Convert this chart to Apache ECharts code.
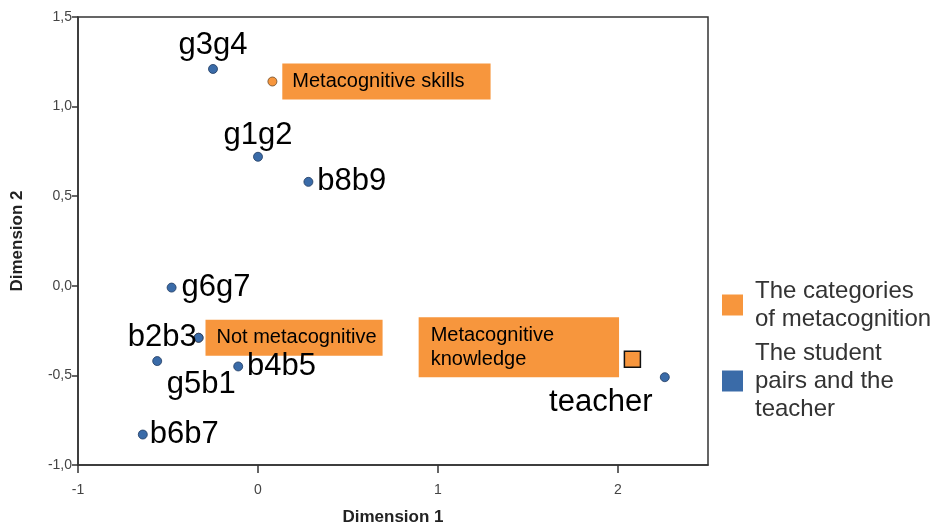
<!DOCTYPE html>
<html>
<head>
<meta charset="utf-8">
<script src="https://cdn.jsdelivr.net/npm/echarts@6/dist/echarts.min.js"></script>
<style>
  html, body { margin: 0; padding: 0; background: #fff; }
  #chart { width: 941px; height: 526px; }
</style>
</head>
<body>
<div id="chart"></div>
<script>
// student pairs and the teacher
const pairNames = ['g3g4', 'g1g2', 'b8b9', 'g6g7', 'b2b3', 'g5b1', 'b4b5', 'b6b7', 'teacher']
const pairDim1 = [-0.25, 0.0, 0.28, -0.48, -0.33, -0.56, -0.11, -0.64, 2.26]
const pairDim2 = [1.21, 0.72, 0.58, -0.01, -0.29, -0.42, -0.45, -0.83, -0.51]

// categories of metacognition
const categoryNames = ['Metacognitive skills', 'Not metacognitive', 'Metacognitive\nknowledge']
const categoryDim1 = [0.08, -0.33, 2.08]
const categoryDim2 = [1.14, -0.29, -0.41]

// axis ticks
const dim1Ticks = [-1, 0, 1, 2]
const dim2Ticks = [-1.0, -0.5, 0.0, 0.5, 1.0, 1.5]

const ORANGE = '#F7963D'
const BLUE = '#3A6BA8'
const FONT = '"Liberation Sans", Arial, sans-serif'

// where each point label goes
const pairLabelPos = {
    g3g4: { position: 'top', distance: 3 },
    g1g2: { position: 'top', distance: 1 },
    b8b9: { position: 'right', distance: 4 },
    g6g7: { position: 'right', distance: 5 },
    b2b3: { position: 'left', distance: 0, offset: [3, 0] },
    g5b1: { position: 'bottom', distance: 3, offset: [44, 0] },
    b4b5: { position: 'right', distance: 4 },
    b6b7: { position: 'right', distance: 2 },
    teacher: { position: 'bottom', distance: 5, offset: [-64, 0] }
}

const categoryLabelPos = [
    { position: 'right', distance: 5, padding: [7, 26, 7, 10] },
    { position: 'right', distance: 2, padding: [7, 6, 7, 11] },
    { position: 'left', distance: 5, align: 'left', offset: [-200, -12], padding: [6, 65, 6, 12], lineHeight: 24 }
]

let pairData = pairNames.map((name, i) => ({
    name: name,
    value: [pairDim1[i], pairDim2[i]],
    label: pairLabelPos[name]
}))

let categoryData = categoryNames.map((name, i) => {
    let item = {
        name: name,
        value: [categoryDim1[i], categoryDim2[i]],
        label: categoryLabelPos[i]
    }
    if (i === 2) {
        item.symbol = 'rect'
        item.symbolSize = 16
        item.itemStyle = { color: ORANGE, borderColor: '#111', borderWidth: 1.5, opacity: 1 }
    }
    return item
})

let chart = echarts.init(document.getElementById('chart'))

let option = {
    animation: false,
    grid: {
        left: 78,
        right: 233,
        top: 17,
        bottom: 61,
        outerBoundsMode: 'none',
        show: true,
        borderColor: '#333',
        borderWidth: 1.5
    },
    legend: {
        orient: 'vertical',
        left: 722,
        top: 277,
        padding: 0,
        itemGap: 6,
        itemWidth: 21,
        itemHeight: 21,
        icon: 'rect',
        itemStyle: { borderWidth: 0, opacity: 1 },
        textStyle: {
            fontFamily: FONT,
            fontSize: 24,
            lineHeight: 28,
            color: '#333',
            padding: [0, 0, 0, 7]
        },
        data: ['The categories\nof metacognition', 'The student\npairs and the\nteacher']
    },
    xAxis: {
        type: 'value',
        min: -1,
        max: 2.5,
        interval: 1,
        name: 'Dimension 1',
        nameLocation: 'middle',
        nameGap: 44,
        nameTextStyle: { fontFamily: FONT, fontSize: 17, fontWeight: 'bold', color: '#222' },
        splitLine: { show: false },
        axisLine: { onZero: false, lineStyle: { color: '#333', width: 1.5 } },
        axisTick: { length: 8, lineStyle: { color: '#333', width: 1.5 }, customValues: dim1Ticks },
        axisLabel: {
            fontFamily: FONT, fontSize: 14, color: '#444', margin: 18,
            customValues: dim1Ticks,
            formatter: v => String(v)
        }
    },
    yAxis: {
        type: 'value',
        min: -1,
        max: 1.5,
        interval: 0.5,
        name: 'Dimension 2',
        nameLocation: 'middle',
        nameGap: 52,
        nameTextStyle: { fontFamily: FONT, fontSize: 17, fontWeight: 'bold', color: '#222' },
        splitLine: { show: false },
        axisLine: { onZero: false, lineStyle: { color: '#333', width: 1.5 } },
        axisTick: { length: 6, lineStyle: { color: '#333', width: 1.5 }, customValues: dim2Ticks },
        axisLabel: {
            fontFamily: FONT, fontSize: 14, color: '#444', margin: 6,
            customValues: dim2Ticks,
            formatter: v => v.toFixed(1).replace('.', ',')
        }
    },
    series: [
        {
            name: 'The categories\nof metacognition',
            type: 'scatter',
            symbol: 'circle',
            symbolSize: 9,
            itemStyle: { color: ORANGE, borderColor: '#6b4a2a', borderWidth: 0.8, opacity: 1 },
            label: {
                show: true,
                formatter: '{b}',
                fontFamily: FONT,
                fontSize: 20,
                lineHeight: 22,
                color: '#000',
                backgroundColor: ORANGE
            },
            data: categoryData,
            z: 2
        },
        {
            name: 'The student\npairs and the\nteacher',
            type: 'scatter',
            symbol: 'circle',
            symbolSize: 9,
            itemStyle: { color: BLUE, borderColor: '#1f3a5f', borderWidth: 0.8, opacity: 1 },
            label: {
                show: true,
                formatter: '{b}',
                fontFamily: FONT,
                fontSize: 31,
                color: '#000'
            },
            data: pairData,
            z: 3
        }
    ]
}

chart.setOption(option)
</script>
</body>
</html>
